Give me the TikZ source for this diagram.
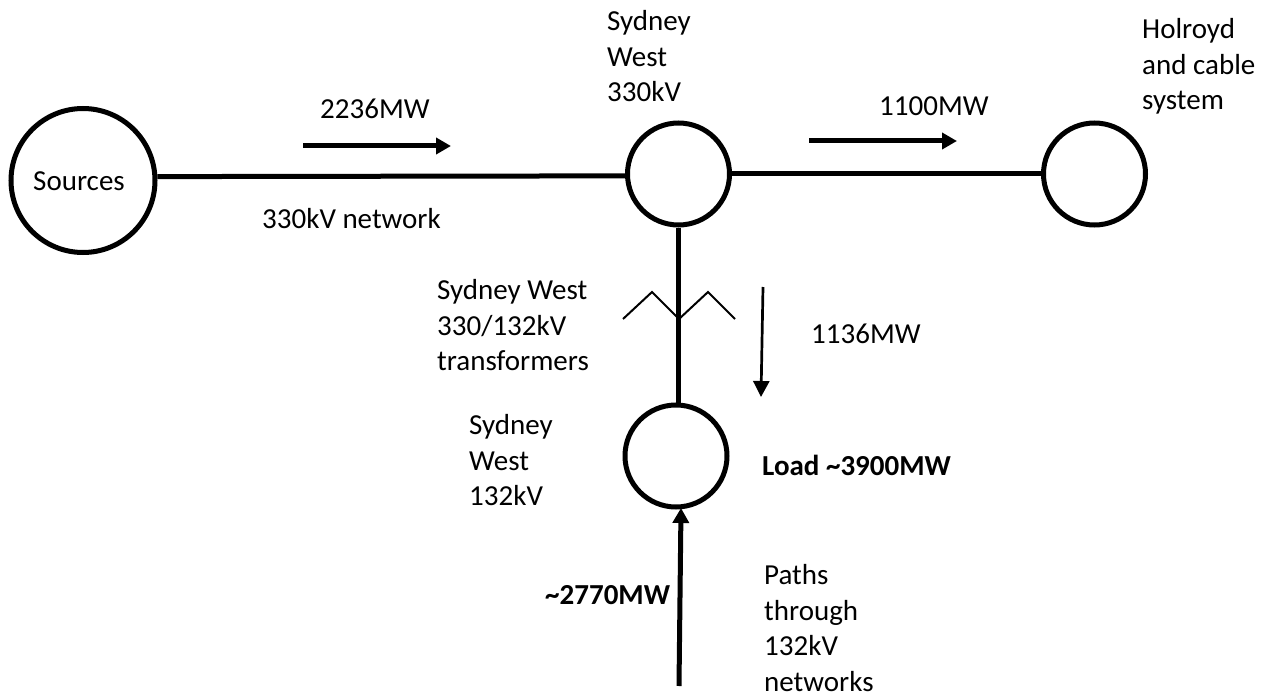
\documentclass[tikz,border=0pt]{standalone}
\usepackage{fontspec}
\setmainfont{Carlito}
\usetikzlibrary{arrows.meta}
\tikzset{
  bus/.style={circle,draw=black,line width=5pt,minimum size=#1,inner sep=0pt},
  line/.style={draw=black,line width=5pt},
  thin arrow/.style={draw=black,line width=2.7pt,-{Triangle[length=16pt,width=16pt]}},
  thick arrow/.style={draw=black,line width=5pt,-{Triangle[length=15pt,width=16pt]}},
  lab/.style={align=left,anchor=north west,font=\fontsize{29pt}{35.8pt}\selectfont,inner sep=0pt},
  blab/.style={lab,font=\fontsize{29pt}{35.8pt}\selectfont\bfseries},
}
\begin{document}
\begin{tikzpicture}[x=1pt,y=-1pt]
\useasboundingbox (0,0) rectangle (1270,698);
\node[bus=144pt] (src) at (83,180.5) {};
\node[bus=102pt] (sw) at (678.5,174) {};
\node[bus=102pt] (hol) at (1094.5,174) {};
\node[bus=102pt] (low) at (676,456) {};
\node[lab] (tsrc) at (33,171) {Sources};
\draw[line] (src.3) -- (sw.182);
\draw[line] (sw) -- (hol);
\draw[line] (sw.south) -- (sw.south |- low.north);
\coordinate (x1) at (623,319);
\coordinate (x2) at (652,292);
\coordinate (x3) at (679,319);
\coordinate (x4) at (708,292);
\coordinate (x5) at (735,319);
\draw[line width=2pt] (x1) -- (x2) -- (x3) -- (x4) -- (x5);
\coordinate (a1s) at (303,146);
\coordinate (a1e) at (451,146);
\draw[thick arrow] (a1s) -- (a1e);
\coordinate (a2s) at (809,141);
\coordinate (a2e) at (957,141);
\draw[thick arrow] (a2s) -- (a2e);
\coordinate (a3s) at (763,287);
\coordinate (a3e) at (761,397);
\draw[thin arrow] (a3s) -- (a3e);
\coordinate (a4s) at (679,686);
\coordinate (a4e) at (681,508);
\draw[thick arrow] (a4s) -- (a4e);
\node[lab] (t1) at (320,99) {2236MW};
\node[lab] (t2) at (879,96) {1100MW};
\node[lab] (t3) at (262,208) {330kV network};
\node[lab] (t4) at (607,10) {Sydney\\West\\330kV};
\node[lab] (t5) at (1142,18) {Holroyd\\and cable\\system};
\node[lab] (t6) at (437,279) {Sydney West\\330/132kV\\transformers};
\node[lab] (t7) at (811,324) {1136MW};
\node[lab] (t8) at (469,414) {Sydney\\West\\132kV};
\node[blab] (t9) at (762,455) {Load \textasciitilde3900MW};
\node[blab] (t10) at (545,585) {\textasciitilde2770MW};
\node[lab] (t11) at (764,564) {Paths\\through\\132kV\\networks};
\end{tikzpicture}
\end{document}
